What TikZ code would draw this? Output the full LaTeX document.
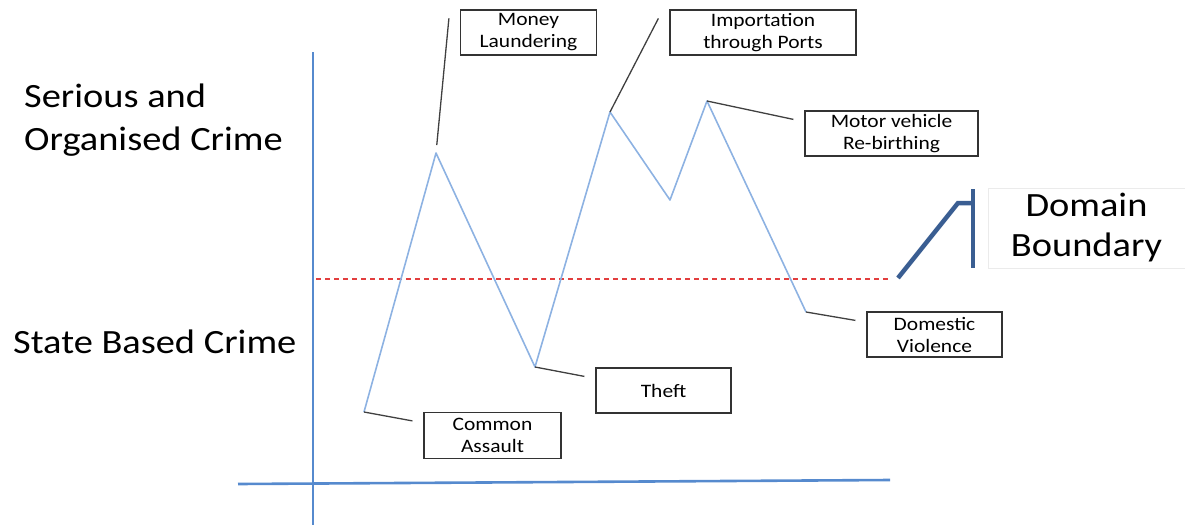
\documentclass[tikz,border=0pt]{standalone}
\usepackage{fontspec}
\setmainfont{Carlito}[FakeStretch=1.13]
\usetikzlibrary{positioning}
\usetikzlibrary{calc}

\definecolor{axisblue}{RGB}{86,138,206}
\definecolor{trendblue}{RGB}{141,178,226}
\definecolor{boundblue}{RGB}{58,94,146}
\definecolor{levelred}{RGB}{226,62,62}

\begin{document}
\begin{tikzpicture}[x=1pt,y=-1pt,
  crimebox/.style={draw=black!80, line width=1.2pt, inner sep=0pt, align=center,
    minimum height=45pt, font=\fontsize{19}{22}\selectfont},
  leader/.style={draw=black!75, line width=1.3pt},
  level/.style={anchor=base west, inner sep=0pt, align=left, font=\fontsize{34}{43}\selectfont}]
\useasboundingbox (0,0) rectangle (1185,525);
% axes and domain level
\draw[axisblue, line width=2.6pt] (313,52) -- (313,525);
\draw[axisblue, line width=2.6pt] (238,484) -- (890,480);
\draw[levelred, line width=1.2pt, dash pattern=on 5pt off 4pt] (316,279) -- (890,279);
% crime profile
\coordinate (p1) at (364,412);
\coordinate (p2) at (436,153);
\coordinate (p3) at (535,367);
\coordinate (p4) at (610,112);
\coordinate (p5) at (670,200);
\coordinate (p6) at (707,101);
\coordinate (p7) at (806,312);
\draw[trendblue, line width=1.6pt, line join=round] (p1) -- (p2) -- (p3) -- (p4) -- (p5) -- (p6) -- (p7);
% labels
\node[level] (soc) at (24,150) {Serious and\\Organised Crime};
\node[level] (sbc) at (13,353) {State Based Crime};
\node[crimebox, minimum width=136pt] (ml) at (528.5,32.5) {Money\\Laundering};
\node[crimebox, minimum width=186pt] (ip) at (763,32.5) {Importation\\through Ports};
\node[crimebox, minimum width=173pt] (mv) at (891.5,133.5) {Motor vehicle\\Re-birthing};
\node[crimebox, minimum width=135pt] (dv) at (934.5,334.5) {Domestic\\Violence};
\node[crimebox, minimum width=135pt] (th) at (663.5,390.5) {Theft};
\node[crimebox, minimum width=137pt, minimum height=46pt] (ca) at (492.5,435.5) {Common\\Assault};
\foreach \b in {ml,ip,mv,dv,th,ca}
  \coordinate (\b-tip) at ($(\b.north west)+(-11,9)$);
\draw[leader, shorten <=8pt] (p2) -- (ml-tip);
\draw[leader] (p4) -- (ip-tip);
\draw[leader] (p6) -- (mv-tip);
\draw[leader] (p7) -- (dv-tip);
\draw[leader] (p3) -- (th-tip);
\draw[leader] (p1) -- (ca-tip);
% domain boundary
\node[draw=black!8, line width=0.6pt, minimum width=197pt, minimum height=80pt, inner sep=0pt,
  align=center, font=\fontsize{34}{40}\selectfont] (db) at (1086.5,228) {Domain\\Boundary};
\coordinate (db1) at (898,278);
\coordinate (db2) at (958,203);
\coordinate (db3) at (973,203);
\coordinate (bar1) at (973,189);
\coordinate (bar2) at (973,268);
\draw[boundblue, line width=4.5pt] (db1) -- (db2) -- (db3);
\draw[boundblue, line width=4.5pt] (bar1) -- (bar2);
\end{tikzpicture}
\end{document}
